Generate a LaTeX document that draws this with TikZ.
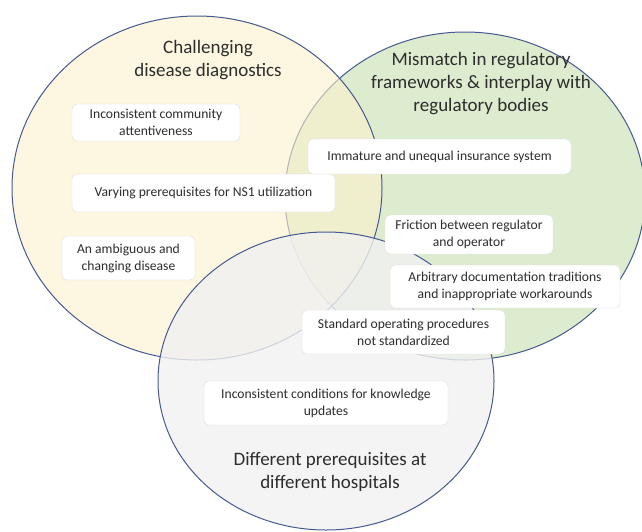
\documentclass[tikz,border=0pt]{standalone}
\usepackage{fontspec}
\setmainfont{Carlito}
\usepackage{tikz}
\usepackage{xcolor}
\definecolor{ringcolor}{RGB}{70, 90, 145}
\definecolor{creamcolor}{RGB}{252, 240, 205}
\definecolor{sagecolor}{RGB}{221, 235, 207}
\definecolor{mistcolor}{RGB}{241, 241, 241}
\definecolor{inkcolor}{RGB}{45, 45, 45}
\definecolor{edgecolor}{RGB}{222, 222, 222}

\tikzset{
        ring/.style={draw=ringcolor, line width=1pt},
        entry/.style={draw=edgecolor, fill=white, rounded corners=5pt, align=center,
                inner sep=0pt, text=inkcolor, font=\fontsize{13.6}{17}\selectfont},
        heading/.style={align=center, text=inkcolor, font=\fontsize{19}{23}\selectfont},
}

\begin{document}
\begin{tikzpicture}[x=1pt, y=-1pt]
        \clip (0,0) rectangle (642,531); % same size as the scanned figure

        % Circles {{{
        \filldraw[ring, fill=sagecolor] (465,196) ellipse (180 and 164); % regulatory
        \filldraw[ring, fill=creamcolor, fill opacity=0.6] (197,188) ellipse (185 and 172); % diagnostics
        \filldraw[ring, fill=mistcolor, fill opacity=0.8] (326,381) ellipse (168 and 149); % hospitals
        % }}}

        % Headings {{{
        \node[heading] (diag) at (208,60) {Challenging\\disease diagnostics};
        \node[heading] (regul) at (481,84) {Mismatch in regulatory\\frameworks \& interplay with\\regulatory bodies};
        \node[heading] (hosp) at (330,472) {Different prerequisites at\\different hospitals};
        % }}}

        % Barriers {{{
        \node[entry, minimum width=168pt, minimum height=37pt] (community) at (156,122.5) {Inconsistent community\\attentiveness};
        \node[entry, minimum width=263pt, minimum height=38pt] (nsone) at (203.5,193) {Varying prerequisites for NS1 utilization};
        \node[entry, minimum width=133pt, minimum height=44pt] (ambiguous) at (128.5,258) {An ambiguous and\\changing disease};
        \node[entry, minimum width=263pt, minimum height=35pt] (insurance) at (439.5,156.5) {Immature and unequal insurance system};
        \node[entry, minimum width=168pt, minimum height=39pt] (friction) at (469,234.5) {Friction between regulator\\and operator};
        \node[entry, minimum width=230pt, minimum height=43pt] (arbitrary) at (505,286.5) {Arbitrary documentation traditions\\and inappropriate workarounds};
        \node[entry, minimum width=203pt, minimum height=44pt] (sop) at (403.5,332) {Standard operating procedures\\not standardized};
        \node[entry, minimum width=244pt, minimum height=44pt] (knowledge) at (326,403) {Inconsistent conditions for knowledge\\updates};
        % }}}
\end{tikzpicture}
\end{document}
